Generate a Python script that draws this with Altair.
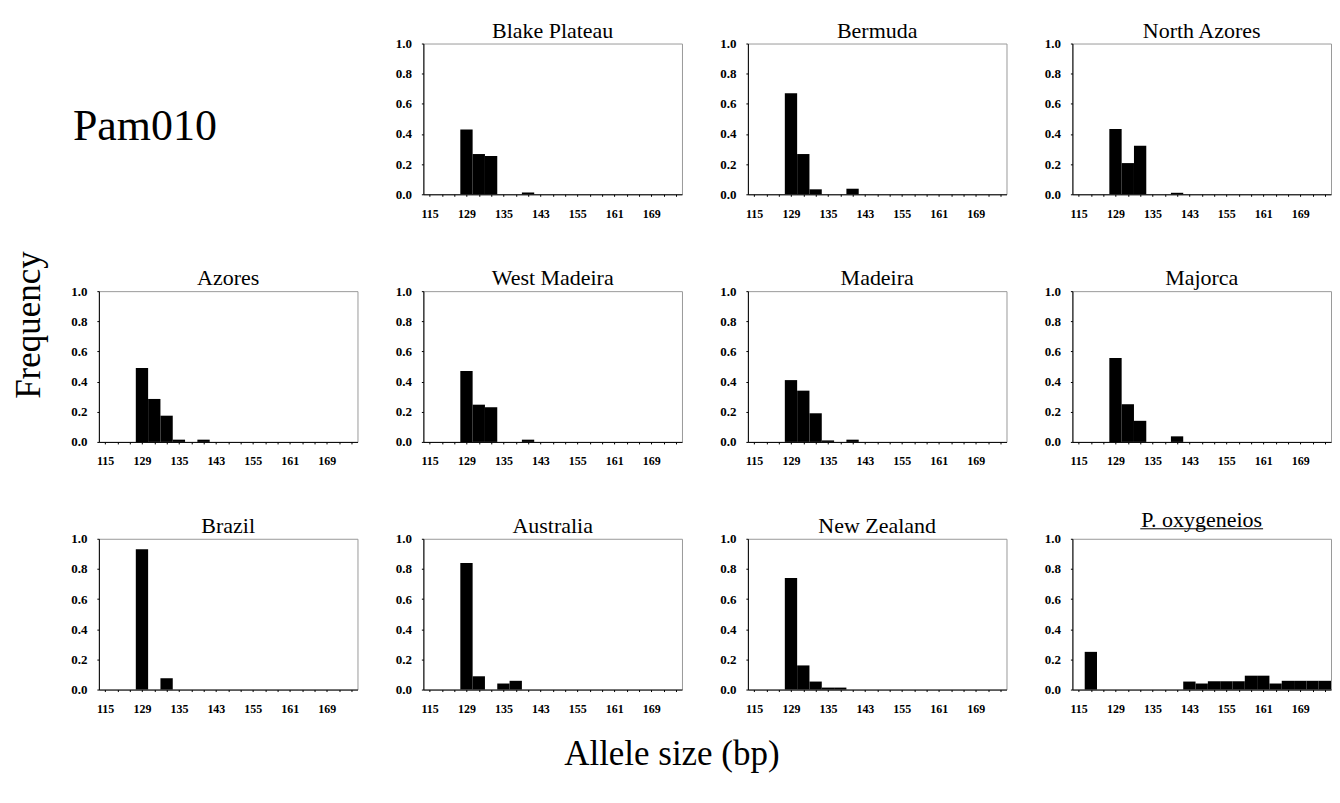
import altair as alt
import pandas as pd

# ---------------- data ----------------
marker_name = "Pam010"
x_title = "Allele size (bp)"
y_title = "Frequency"

N_CAT = 21  # allele size classes along the x axis
tick_index = [0, 3, 6, 9, 12, 15, 18]
tick_labels = ["115", "129", "135", "143", "155", "161", "169"]
y_ticks = [0.0, 0.2, 0.4, 0.6, 0.8, 1.0]

populations = ["Blake Plateau", "Bermuda", "North Azores",
               "Azores", "West Madeira", "Madeira", "Majorca",
               "Brazil", "Australia", "New Zealand", "P. oxygeneios"]

blake_plateau = [0, 0, 0, 0.43, 0.267, 0.254, 0, 0, 0.012, 0, 0, 0, 0, 0, 0, 0, 0, 0, 0, 0, 0]
bermuda       = [0, 0, 0, 0.67, 0.267, 0.033, 0, 0, 0.037, 0, 0, 0, 0, 0, 0, 0, 0, 0, 0, 0, 0]
north_azores  = [0, 0, 0, 0.433, 0.207, 0.322, 0, 0, 0.01, 0, 0, 0, 0, 0, 0, 0, 0, 0, 0, 0, 0]
azores        = [0, 0, 0, 0.49, 0.285, 0.174, 0.015, 0, 0.015, 0, 0, 0, 0, 0, 0, 0, 0, 0, 0, 0, 0]
west_madeira  = [0, 0, 0, 0.47, 0.247, 0.23, 0, 0, 0.015, 0, 0, 0, 0, 0, 0, 0, 0, 0, 0, 0, 0]
madeira       = [0, 0, 0, 0.41, 0.34, 0.19, 0.01, 0, 0.015, 0, 0, 0, 0, 0, 0, 0, 0, 0, 0, 0, 0]
majorca       = [0, 0, 0, 0.556, 0.25, 0.14, 0, 0, 0.037, 0, 0, 0, 0, 0, 0, 0, 0, 0, 0, 0, 0]
brazil        = [0, 0, 0, 0.93, 0, 0.075, 0, 0, 0, 0, 0, 0, 0, 0, 0, 0, 0, 0, 0, 0, 0]
australia     = [0, 0, 0, 0.84, 0.088, 0, 0.04, 0.058, 0, 0, 0, 0, 0, 0, 0, 0, 0, 0, 0, 0, 0]
new_zealand   = [0, 0, 0, 0.74, 0.16, 0.053, 0.013, 0.013, 0, 0, 0, 0, 0, 0, 0, 0, 0, 0, 0, 0, 0]
p_oxygeneios  = [0, 0.25, 0, 0, 0, 0, 0, 0, 0, 0.053, 0.04, 0.055, 0.055, 0.055, 0.092, 0.092, 0.04, 0.058, 0.058, 0.058, 0.058]

series = [blake_plateau, bermuda, north_azores, azores, west_madeira, madeira,
          majorca, brazil, australia, new_zealand, p_oxygeneios]

# ---------------- styling ----------------
SERIF = "Liberation Serif"
PW, PH = 259, 151

full_labels = [""] * N_CAT
for k, lab in zip(tick_index, tick_labels):
    full_labels[k] = lab
label_expr = "[" + ",".join("'%s'" % s for s in full_labels) + "][floor(datum.value)]"


def make_panel(name, values, underline=False):
    df = pd.DataFrame({"i": list(range(N_CAT)), "freq": values})
    df["i2"] = df["i"] + 1
    bars = alt.Chart(df).transform_filter("datum.freq > 0").mark_rect(
        color="black", strokeWidth=0
    ).encode(
        x=alt.X("i:Q",
                scale=alt.Scale(domain=[0, N_CAT], nice=False, zero=False),
                axis=alt.Axis(values=[k + 0.5 for k in range(N_CAT)],
                              labelExpr=label_expr, title=None, grid=False,
                              tickSize=2, labelPadding=12, labelOverlap=False,
                              labelFont=SERIF, labelFontSize=12,
                              labelFontWeight="bold", labelColor="black",
                              domainColor="black", tickColor="black")),
        x2="i2:Q",
        y=alt.Y("freq:Q",
                scale=alt.Scale(domain=[0, 1], nice=False),
                axis=alt.Axis(values=y_ticks, format=".1f", title=None,
                              grid=False, tickSize=2, labelPadding=10,
                              labelFont=SERIF, labelFontSize=13,
                              labelFontWeight="bold", labelColor="black",
                              domainColor="black", tickColor="black")),
        y2=alt.datum(0),
    )
    if underline:
        title = alt.TitleParams(name, font=SERIF, fontSize=22, fontWeight="normal",
                                color="black", anchor="middle", offset=-3.5)
        rule = alt.Chart(pd.DataFrame({"u": [0]})).mark_rule(
            color="black", strokeWidth=1
        ).encode(x=alt.value(68), x2=alt.value(191), y=alt.value(-10))
        return alt.layer(bars, rule, title=title).properties(width=PW, height=PH)
    title = alt.TitleParams(name, font=SERIF, fontSize=22, fontWeight="normal",
                            color="black", anchor="middle", offset=-5)
    return bars.properties(width=PW, height=PH, title=title)


marker_cell = alt.Chart(pd.DataFrame({"label": [marker_name]})).mark_text(
    font=SERIF, fontSize=44, align="left", baseline="middle", color="black"
).encode(
    text="label:N", x=alt.value(-26), y=alt.value(84)
).properties(width=PW, height=PH, view=alt.ViewBackground(stroke="transparent"))

panels = [make_panel(n, v, underline=(n == "P. oxygeneios"))
          for n, v in zip(populations, series)]

grid = alt.concat(
    marker_cell, *panels, columns=4, bounds="flush",
    spacing={"row": 97, "column": 66},
    title=alt.TitleParams(y_title, orient="left", anchor="middle", font=SERIF,
                          fontSize=35, fontWeight="normal", color="black",
                          offset=23, dx=42),
)

chart = alt.vconcat(
    grid,
    title=alt.TitleParams(x_title, orient="bottom", anchor="middle", font=SERIF,
                          fontSize=35, fontWeight="normal", color="black",
                          offset=22),
).properties(padding={"left": 4, "top": 10, "right": 0, "bottom": 0}
).configure_view(stroke="#9a9a9a", strokeWidth=1)

chart.save("out.html", embed_options={"renderer": "svg", "actions": False})
